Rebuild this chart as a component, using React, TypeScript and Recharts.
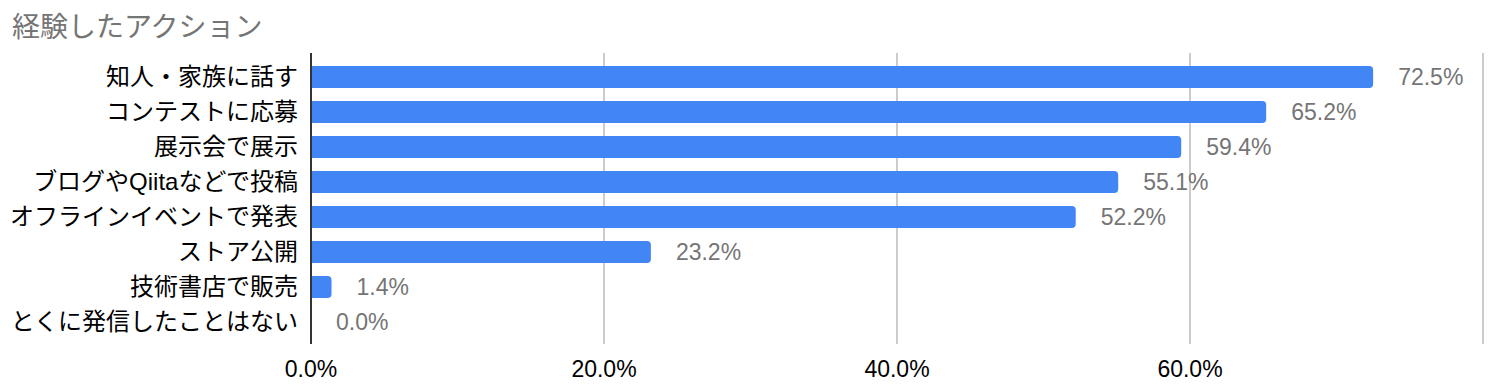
import { BarChart, Bar, XAxis, YAxis, CartesianGrid, LabelList } from "recharts";

const categories = [
  "知人・家族に話す",
  "コンテストに応募",
  "展示会で展示",
  "ブログやQiitaなどで投稿",
  "オフラインイベントで発表",
  "ストア公開",
  "技術書店で販売",
  "とくに発信したことはない",
];
const shares = [72.5, 65.2, 59.4, 55.1, 52.2, 23.2, 1.4, 0.0];
const xTicks = [0, 20, 40, 60, 80];

const data = categories.map((name, i) => ({ name, value: shares[i] }));

const FONT = "'Liberation Sans', Arial, 'Noto Sans CJK JP', sans-serif";

// value label drawn to the right of each bar (also for the 0% row)
const ValueLabel = (props: any) => {
  const { x, y, width, height, value } = props;
  return (
    <text
      x={Number(x) + Number(width) + 25}
      y={Number(y) + Number(height) / 2}
      dominantBaseline="central"
      fill="#757575"
      fontSize={23}
      fontFamily={FONT}
    >
      {`${Number(value).toFixed(1)}%`}
    </text>
  );
};

export default function App() {
  return (
    <div style={{ position: "absolute", left: 0, top: 0, width: 1498, height: 392, fontFamily: FONT }}>
      <div
        style={{
          position: "absolute",
          left: 12,
          top: 5,
          fontSize: 28,
          color: "#757575",
          fontFamily: FONT,
        }}
      >
        経験したアクション
      </div>
      <BarChart
        width={1498}
        height={392}
        data={data}
        layout="vertical"
        margin={{ top: 53, right: 15, bottom: 18, left: 0 }}
        barSize={22}
      >
        <CartesianGrid horizontal={false} stroke="#cccccc" strokeWidth={2} />
        <XAxis
          type="number"
          domain={[0, 80]}
          ticks={xTicks}
          axisLine={false}
          tickLine={false}
          tickSize={0}
          tickMargin={17}
          height={30}
          tick={{ fill: "#000", fontSize: 23, fontFamily: FONT }}
          tickFormatter={(v: number) => (v === 80 ? "" : `${v.toFixed(1)}%`)}
        />
        <YAxis
          type="category"
          dataKey="name"
          width={311}
          padding={{ top: 6, bottom: 5 }}
          axisLine={{ stroke: "#333333", strokeWidth: 2 }}
          tickLine={false}
          tickSize={0}
          tickMargin={13}
          interval={0}
          tick={{ fill: "#000", fontSize: 24, fontFamily: FONT }}
        />
        <Bar
          dataKey="value"
          fill="#4285f4"
          radius={[0, 4, 4, 0]}
          minPointSize={(v: number) => (v === 0 ? 0.01 : 0)}
          isAnimationActive={false}
        >
          <LabelList dataKey="value" content={<ValueLabel />} />
        </Bar>
      </BarChart>
    </div>
  );
}
